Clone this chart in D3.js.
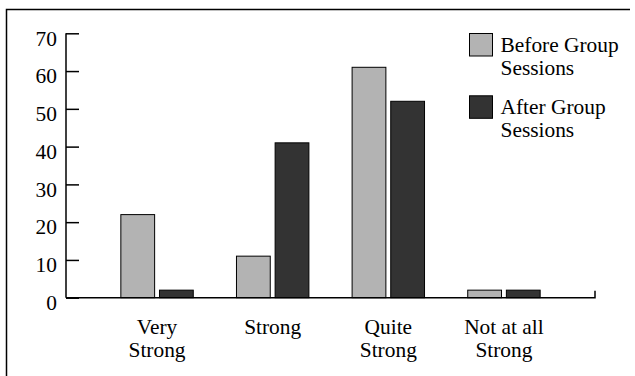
<!DOCTYPE html>
<html><head><meta charset="utf-8">
<script src="https://cdn.jsdelivr.net/npm/d3@7/dist/d3.min.js"></script>
<style>body{margin:0;background:#fff}svg{display:block}
svg text{font-family:"Liberation Serif","Times New Roman",Times,serif;font-size:21.4px;fill:#000}</style>
</head><body>
<script>
const categories = [["Very","Strong"],["Strong"],["Quite","Strong"],["Not at all","Strong"]];
const seriesNames = [["Before Group","Sessions"],["After Group","Sessions"]];
const before = [22, 11, 61, 2];
const after = [2, 41, 52, 2];
const yTicks = [0,10,20,30,40,50,60,70];
const colors = ["#b3b3b3","#333333"];

const W = 635, H = 376;
const svg = d3.select("body").append("svg").attr("width", W).attr("height", H);

// frame (top and left only)
svg.append("path").attr("d", "M6.5,376V9.5H630").attr("fill","none").attr("stroke","#000").attr("stroke-width",1.5);

const x0 = 66, x1 = 595, yTop = 33.3, yBot = 297.7;
const x = d3.scaleBand().domain(d3.range(categories.length)).range([x0, x1]).paddingInner(0.365).paddingOuter(0.47);
const xs = d3.scaleBand().domain([0,1]).range([0, x.bandwidth()]).paddingInner(0.1);
const y = d3.scaleLinear().domain([0,70]).range([yBot, yTop]);

const data = categories.map((c,i)=>({i, vals:[before[i], after[i]]}));
const g = svg.append("g");
data.forEach(d=>{
  d.vals.forEach((v,s)=>{
    g.append("rect")
      .attr("x", x(d.i)+xs(s)+0.5).attr("y", y(v))
      .attr("width", xs.bandwidth()-1).attr("height", yBot - y(v))
      .attr("fill", colors[s]).attr("stroke","#000").attr("stroke-width",1);
  });
});

// y axis
const yAxis = d3.axisLeft(y).tickValues(yTicks).tickSize(-13).tickPadding(9);
const ya = svg.append("g").attr("transform", `translate(${x0},0)`).call(yAxis)
  .attr("font-family", null).attr("font-size", null);
ya.select(".domain").remove();
ya.selectAll(".tick line").attr("stroke","#000").attr("stroke-width",1.5);
ya.selectAll(".tick text").attr("x",-9).attr("dy","0.55em").attr("fill","#000");
svg.append("line").attr("x1",x0).attr("x2",x0).attr("y1",yTop).attr("y2",yBot).attr("stroke","#000").attr("stroke-width",1.5);

// x axis
svg.append("path").attr("d",`M${x0},${yBot}H${x1}V${yBot-7}`).attr("fill","none").attr("stroke","#000").attr("stroke-width",1.5);
categories.forEach((c,i)=>{
  const t = svg.append("text").attr("text-anchor","middle");
  c.forEach((line,k)=>{
    t.append("tspan").attr("x", x(i)+x.bandwidth()/2).attr("y", 333.5 + k*23).text(line);
  });
});

// legend
seriesNames.forEach((n,s)=>{
  const yy = 33.5 + s*62.3;
  svg.append("rect").attr("x",469.5).attr("y",yy).attr("width",23).attr("height",22.5)
    .attr("fill",colors[s]).attr("stroke","#000").attr("stroke-width",1);
  const t = svg.append("text");
  n.forEach((line,k)=>{
    t.append("tspan").attr("x",500.5).attr("y", yy + 18.3 + k*23.3).text(line);
  });
});
</script>
</body></html>
